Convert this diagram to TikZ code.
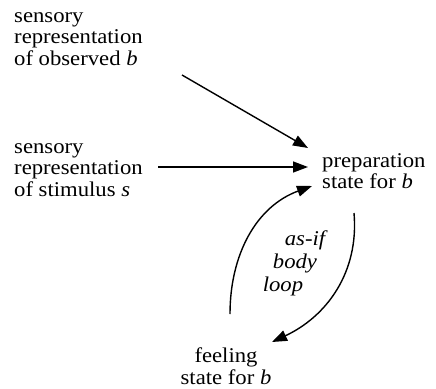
\documentclass[tikz,border=0pt]{standalone}
\usepackage{fontspec}
\setmainfont{Liberation Serif}[FakeStretch=1.08]
\usetikzlibrary{arrows.meta}
\tikzset{
  lbl/.style={inner sep=0pt, font=\fontsize{21}{21.5}\selectfont},
  ital/.style={inner sep=0pt, font=\fontsize{21}{21.5}\selectfont\itshape},
  conn/.style={line width=1.4pt, -{Triangle[length=15pt,width=11pt]}},
}
\begin{document}
\begin{tikzpicture}[x=1pt,y=-1pt]
\useasboundingbox (0,0) rectangle (436,388);
\node[lbl, anchor=west, align=left] (obs) at (14,39) {sensory\\representation\\of observed \textit{b}};
\node[lbl, anchor=west, align=left] (stim) at (14,170) {sensory\\representation\\of stimulus \textit{s}};
\node[lbl, anchor=west, align=left] (prep) at (322,171) {preparation\\state for \textit{b}};
\node[lbl, align=center] (feel) at (226,366) {feeling\\state for \textit{b}};
\node[ital] (asif) at (305,240) {as-if};
\node[ital] (body) at (295,263) {body};
\node[ital] (loop) at (283,286) {loop};
\coordinate (a1s) at (182,75);
\coordinate (a1e) at (308,148);
\coordinate (a2s) at (158,167);
\coordinate (a2e) at (308,167);
\coordinate (l1s) at (230,314);
\coordinate (l1e) at (312,186);
\coordinate (l2s) at (354,213);
\coordinate (l2e) at (272,342);
\draw[conn] (a1s) -- (a1e);
\draw[conn] (a2s) -- (a2e);
\draw[conn] (l1s) to[out=90,in=200] (l1e);
\draw[conn] (l2s) to[out=-85,in=25] (l2e);
\end{tikzpicture}
\end{document}
